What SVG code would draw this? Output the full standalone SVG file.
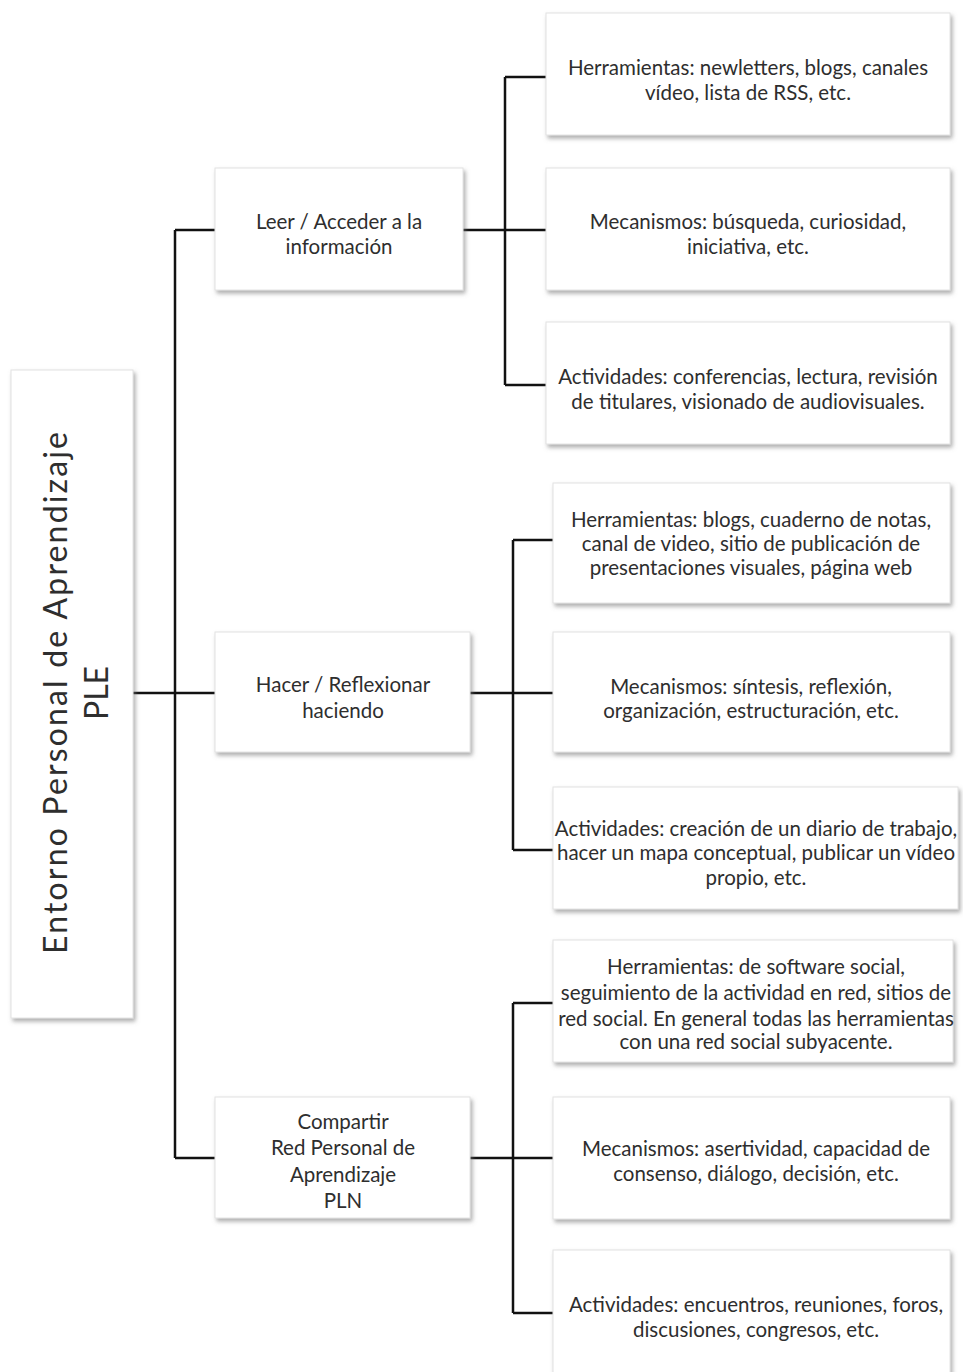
<svg xmlns="http://www.w3.org/2000/svg" width="963" height="1372" viewBox="0 0 963 1372">
<defs>
<filter id="sh" x="-5%" y="-5%" width="115%" height="120%">
<feDropShadow dx="2" dy="3" stdDeviation="2" flood-color="#777" flood-opacity="0.6"/>
</filter>
</defs>
<style>
.box{fill:#fff;stroke:#e2e2e2;stroke-width:1;filter:url(#sh)}
.t{font-family:Lato,"Liberation Sans",sans-serif;font-size:20.5px;fill:#2e2e2e;text-anchor:middle}
.big{font-family:Lato,"Liberation Sans",sans-serif;font-size:32px;fill:#2e2e2e;text-anchor:middle}
.c{stroke:#111;stroke-width:2.5;fill:none}
</style>
<rect width="963" height="1372" fill="#fff"/>
<g id="connectors">
<path class="c" d="M133 693H215M175 230V1158M175 230H215M175 1158H215"/>
<path class="c" d="M463 230H546M505 77V385M505 77H546M505 385H546"/>
<path class="c" d="M470 693H553M513 540V850M513 540H553M513 850H553"/>
<path class="c" d="M470 1158H553M513 1003V1313M513 1003H553M513 1313H553"/>
</g>
<g id="ple">
<rect class="box" x="11" y="370" width="122" height="648"/>
<text class="big" transform="translate(67 693) rotate(-90)" textLength="522" lengthAdjust="spacing">Entorno Personal de Aprendizaje</text>
<text class="big" transform="translate(108 693) rotate(-90)">PLE</text>
</g>
<g id="leer">
<rect class="box" x="215" y="168" width="248" height="122"/>
<text class="t" x="339" y="229">Leer / Acceder a la</text>
<text class="t" x="339" y="254">información</text>
</g>
<g id="herr1">
<rect class="box" x="546" y="13" width="404" height="122"/>
<text class="t" x="748" y="75">Herramientas: newletters, blogs, canales</text>
<text class="t" x="748" y="100">vídeo, lista de RSS, etc.</text>
</g>
<g id="mec1">
<rect class="box" x="546" y="168" width="404" height="122"/>
<text class="t" x="748" y="229">Mecanismos: búsqueda, curiosidad,</text>
<text class="t" x="748" y="254">iniciativa, etc.</text>
</g>
<g id="act1">
<rect class="box" x="546" y="322" width="404" height="122"/>
<text class="t" x="748" y="384">Actividades: conferencias, lectura, revisión</text>
<text class="t" x="748" y="409">de titulares, visionado de audiovisuales.</text>
</g>
<g id="hacer">
<rect class="box" x="215" y="632" width="255" height="120"/>
<text class="t" x="343" y="692">Hacer / Reflexionar</text>
<text class="t" x="343" y="718">haciendo</text>
</g>
<g id="herr2">
<rect class="box" x="553" y="483" width="397" height="120"/>
<text class="t" x="751" y="527">Herramientas: blogs, cuaderno de notas,</text>
<text class="t" x="751" y="551">canal de video, sitio de publicación de</text>
<text class="t" x="751" y="575">presentaciones visuales, página web</text>
</g>
<g id="mec2">
<rect class="box" x="553" y="632" width="397" height="120"/>
<text class="t" x="751" y="694">Mecanismos: síntesis, reflexión,</text>
<text class="t" x="751" y="718">organización, estructuración, etc.</text>
</g>
<g id="act2">
<rect class="box" x="553" y="787" width="405" height="122"/>
<text class="t" x="756" y="836">Actividades: creación de un diario de trabajo,</text>
<text class="t" x="756" y="860">hacer un mapa conceptual, publicar un vídeo</text>
<text class="t" x="756" y="885">propio, etc.</text>
</g>
<g id="compartir">
<rect class="box" x="215" y="1097" width="255" height="121"/>
<text class="t" x="343" y="1129">Compartir</text>
<text class="t" x="343" y="1155">Red Personal de</text>
<text class="t" x="343" y="1182">Aprendizaje</text>
<text class="t" x="343" y="1208">PLN</text>
</g>
<g id="herr3">
<rect class="box" x="553" y="940" width="400" height="122"/>
<text class="t" x="756" y="974">Herramientas: de software social,</text>
<text class="t" x="756" y="1000">seguimiento de la actividad en red, sitios de</text>
<text class="t" x="756" y="1026">red social. En general todas las herramientas</text>
<text class="t" x="756" y="1049">con una red social subyacente.</text>
</g>
<g id="mec3">
<rect class="box" x="553" y="1097" width="397" height="122"/>
<text class="t" x="756" y="1156">Mecanismos: asertividad, capacidad de</text>
<text class="t" x="756" y="1181">consenso, diálogo, decisión, etc.</text>
</g>
<g id="act3">
<rect class="box" x="553" y="1250" width="397" height="130"/>
<text class="t" x="756" y="1312">Actividades: encuentros, reuniones, foros,</text>
<text class="t" x="756" y="1337">discusiones, congresos, etc.</text>
</g>
</svg>
